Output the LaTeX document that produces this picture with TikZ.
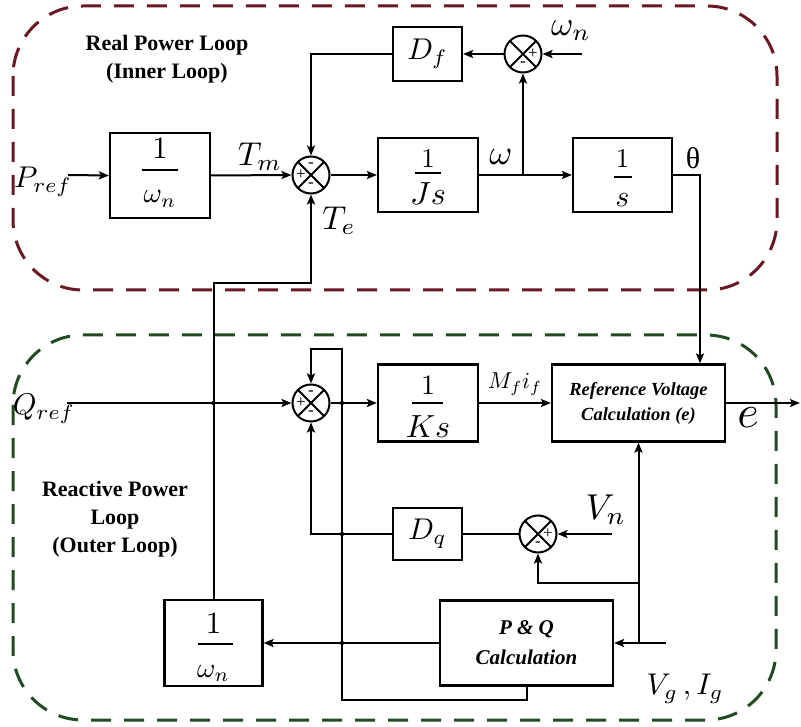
\documentclass[tikz,border=0pt]{standalone}
\usepackage{graphicx}
\usepackage{fontspec}
\setmainfont{Liberation Serif}
\usetikzlibrary{arrows.meta,calc}
\definecolor{redline}{RGB}{105,25,35}
\definecolor{greenline}{RGB}{35,75,35}
% math scaled from 10pt (math font sizes do not scale past 25pt here)
\newcommand{\mx}[2]{\scalebox{#1}{\fontsize{10}{12}\selectfont$#2$}}
\begin{document}
\begin{tikzpicture}[x=1pt,y=-1pt,line width=2pt,
  >={Stealth[length=10pt,width=8pt,inset=2pt]},
  blk/.style={draw,line width=2.2pt,inner sep=0pt},
  sumj/.style={draw,circle,line width=2pt,minimum size=37pt,inner sep=0pt,
    path picture={\draw[line width=1.8pt] (path picture bounding box.north west)--(path picture bounding box.south east) (path picture bounding box.north east)--(path picture bounding box.south west);}},
  sgn/.style={font=\fontsize{17}{17}\selectfont,inner sep=0pt},
  fr/.style={inner sep=0pt},
  lbl/.style={inner sep=0pt},
  bar/.style={line width=1.7pt},
  loopbox/.style={line width=3pt,dash pattern=on 20pt off 13pt,rounded corners=70pt},
  ttl/.style={font=\fontsize{22}{28}\selectfont\bfseries,align=center,inner sep=0pt},
  dot/.style={circle,fill,inner sep=0pt,minimum size=4.5pt}
]
\useasboundingbox (0,0) rectangle (801,727);
\fill[white] (0,0) rectangle (801,727);

% loop boxes
\draw[loopbox,draw=redline] (13,6) rectangle (777,290);
\draw[loopbox,draw=greenline] (13,335) rectangle (776,720);

% titles
\node[ttl] (t1) at (167,59) {Real Power Loop\\(Inner Loop)};
\node[ttl] (t2) at (115,519) {Reactive Power\\Loop\\(Outer Loop)};

% ---------- real power loop ----------
\node[lbl] (pref) at (43,182) {\mx{3.0}{P_{ref}}};
\coordinate (pin) at (68,175);

\node[blk,minimum width=100pt,minimum height=85pt] (b1) at (160,175.5) {};
\node[fr,anchor=base] (b1n) at ($(b1.center)+(0,-16.5)$) {\mx{3.1}{1}};
\draw[bar] ($(b1.center)+(-18,-5.5)$) -- ($(b1.center)+(18,-5.5)$);
\node[fr,anchor=base] (b1d) at ($(b1.center)+(0,27.5)$) {\mx{2.8}{\omega_n}};

\node[sumj] (s1) at (311,175) {};
\node[sgn] (s1a) at ($(s1.center)+(-10,0)$) {+};
\node[sgn] (s1b) at ($(s1.center)+(0,-10)$) {-};
\node[sgn] (s1c) at ($(s1.center)+(0,10)$) {-};

\node[lbl] (tm) at (260,157) {\mx{3.3}{T_m}};
\node[lbl] (te) at (339,221) {\mx{3.3}{T_e}};

\node[blk,minimum width=69pt,minimum height=54pt] (df) at (427.5,54) {\mx{3.0}{D_f}};
\node[sumj] (s2) at (523,54) {};
\node[sgn] (s2a) at ($(s2.center)+(10,0)$) {+};
\node[sgn] (s2b) at ($(s2.center)+(0,10)$) {-};
\node[lbl] (wn) at (571,31) {\mx{3.4}{\omega_n}};
\coordinate (wnin) at (582,54);

\node[blk,minimum width=100pt,minimum height=74pt] (js) at (428,175) {};
\node[fr,anchor=base] (jsn) at ($(js.center)+(0,-7)$) {\mx{2.7}{1}};
\draw[bar] ($(js.center)+(-13,-2)$) -- ($(js.center)+(13,-2)$);
\node[fr,anchor=base] (jsd) at ($(js.center)+(0,30)$) {\mx{3.2}{Js}};

\node[lbl] (w) at (501,157) {\mx{3.5}{\omega}};

\node[blk,minimum width=99pt,minimum height=74pt] (sb) at (622.5,175) {};
\node[fr,anchor=base] (sbn) at ($(sb.center)+(0,-7)$) {\mx{2.7}{1}};
\draw[bar] ($(sb.center)+(-9,2)$) -- ($(sb.center)+(9,2)$);
\node[fr,anchor=base] (sbd) at ($(sb.center)+(0,32)$) {\mx{3.0}{s}};

\node[lbl,font=\fontsize{30}{30}\selectfont] (th) at (693,158) {θ};
\coordinate (wb) at (523,175);
\coordinate (thc) at (700,175);
\coordinate (k1) at (311,283);

% ---------- reactive power loop ----------
\node[lbl] (qref) at (44,409) {\mx{3.0}{Q_{ref}}};
\coordinate (qin) at (67,403);

\node[sumj] (s3) at (311,403) {};
\node[sgn] (s3a) at ($(s3.center)+(-10,0)$) {+};
\node[sgn] (s3b) at ($(s3.center)+(0,-10)$) {-};
\node[sgn] (s3c) at ($(s3.center)+(0,10)$) {-};

\node[blk,minimum width=100pt,minimum height=77pt] (ks) at (428,403) {};
\node[fr,anchor=base] (ksn) at ($(ks.center)+(0,-8)$) {\mx{2.8}{1}};
\draw[bar] ($(ks.center)+(-16,0)$) -- ($(ks.center)+(15,0)$);
\node[fr,anchor=base] (ksd) at ($(ks.center)+(0,34)$) {\mx{3.2}{Ks}};

\node[lbl] (mf) at (515,384) {\mx{2.3}{M_f i_f}};

\node[blk,minimum width=173pt,minimum height=77pt,font=\fontsize{18.5}{25}\selectfont\bfseries\itshape,align=center] (ref) at (638.5,403) {Reference Voltage\\Calculation (e)};
\node[lbl] (e) at (748,418) {\mx{4.6}{e}};
\coordinate (eout) at (800,403);

\node[blk,minimum width=69pt,minimum height=52pt] (dq) at (427.5,534) {\mx{3.0}{D_q}};
\node[sumj] (s4) at (538,534) {};
\node[sgn] (s4a) at ($(s4.center)+(10,0)$) {+};
\node[sgn] (s4b) at ($(s4.center)+(0,10)$) {-};
\node[lbl] (vn) at (606,510) {\mx{3.6}{V_n}};
\coordinate (vnin) at (612,534);

\node[blk,minimum width=173pt,minimum height=85pt,font=\fontsize{21}{30}\selectfont\bfseries\itshape,align=center] (pq) at (526.5,643) {P \& Q\\Calculation};
\node[lbl] (vg) at (685,689) {\mx{3.0}{V_g\,,I_g}};
\coordinate (vin) at (666,643);
\coordinate (k5) at (638.5,643);
\coordinate (k6) at (638.5,583);

\node[blk,minimum width=98pt,minimum height=86pt] (b2) at (213.5,643) {};
\node[fr,anchor=base] (b2n) at ($(b2.center)+(0,-10)$) {\mx{3.1}{1}};
\draw[bar] ($(b2.center)+(-16,1)$) -- ($(b2.center)+(19,1)$);
\node[fr,anchor=base] (b2d) at ($(b2.center)+(0,34)$) {\mx{2.8}{\omega_n}};

\coordinate (k2) at (342,403);
\coordinate (k3) at (342,349);
\coordinate (k4) at (342,700);

% ---------- connectors ----------
\draw[->] (pin) -- (b1.west);
\draw[->] (b1.east) -- (s1.west);
\draw[->] (s1.east) -- (js.west);
\draw[->] (js.east) -- (sb.west);
\draw[->] (wb) -- (s2.south);
\draw[->] (s2.west) -- (df.east);
\draw[->] (wnin) -- (s2.east);
\draw[->] (df.west) -| (s1.north);
\draw[->] (sb.east) -- (thc) -- (thc |- ref.north);
\draw[->] (b2.north) |- (k1) -- (s1.south);

\draw[->] (qin) -- (s3.west);
\draw[->] (s3.east) -- (ks.west);
\draw[->] (k2) -- (k3) -| (s3.north);
\draw (k2) -- (k4) -| (pq.south);
\draw[->] (ks.east) -- (ref.west);
\draw[->] (ref.east) -- (eout);
\draw (s4.west) -- (dq.east);
\draw[->] (dq.west) -| (s3.south);
\draw[->] (vnin) -- (s4.east);
\draw[->] (vin) -- (pq.east);
\draw[->] (k5) -- (ref.south);
\draw[->] (k6) -| (s4.south);
\draw[->] (pq.west) -- (b2.east);

\node[dot] (d1) at (qin -| b2.north) {};
\node[dot] (d2) at (k2) {};
\node[dot] (d3) at (dq.west -| k2) {};
\node[dot] (d4) at (pq.west -| k2) {};
\end{tikzpicture}
\end{document}
